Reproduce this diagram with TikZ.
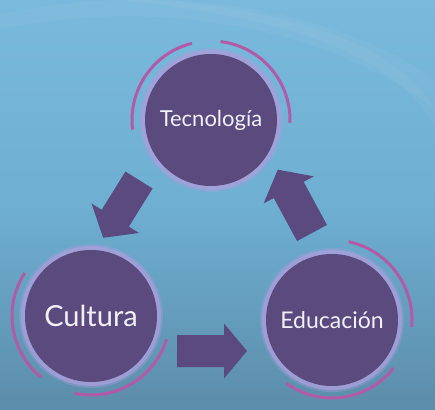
\documentclass[tikz,border=0pt]{standalone}
\usepackage{fontspec}
\setmainfont{Lato}
\usetikzlibrary{calc}
\definecolor{bgtop}{HTML}{7AB9DB}
\definecolor{bgmid}{HTML}{6EAFD2}
\definecolor{bgbot}{HTML}{5C8DAA}
\definecolor{ballfill}{HTML}{5A4A7E}
\definecolor{glow}{HTML}{A79FDA}
\definecolor{ringcol}{HTML}{B25AA8}
\definecolor{arrowcol}{HTML}{5B4A80}
\definecolor{txtcol}{HTML}{F2F0FA}
\tikzset{
  ball/.style={circle, fill=ballfill, minimum size=132pt, inner sep=0pt, text=txtcol},
  ring/.style={draw=ringcol, line width=3pt},
  blockarr/.style={fill=arrowcol},
}
\newcommand\myblockarrow[6]{% x y angle length shafthalf headhalf
  \fill[blockarr, shift={(#1,#2)}, rotate=#3]
    (0,-#5) -- ({#4-23},-#5) -- ({#4-23},-#6) -- (#4,0)
    -- ({#4-23},#6) -- ({#4-23},#5) -- (0,#5) -- cycle;}
\newcommand\myglow[1]{%
  \fill[glow, opacity=0.35] (#1) circle (72pt);
  \fill[glow, opacity=0.8] (#1) circle (70pt);}
\begin{document}
\begin{tikzpicture}[x=1pt,y=1pt]
\path[use as bounding box, top color=bgtop, bottom color=bgbot, middle color=bgmid]
  (0,0) rectangle (435,409);
% faint streaks
\fill[white, opacity=0.04] (0,395) .. controls (120,420) and (300,420) .. (435,330)
  -- (435,300) .. controls (300,400) and (120,405) .. (0,380) -- cycle;
\fill[white, opacity=0.04] (150,409) .. controls (300,400) and (400,360) .. (435,300)
  -- (435,280) .. controls (400,350) and (300,390) .. (120,409) -- cycle;
% coordinates
\coordinate (ct) at (211,289);
\coordinate (cc) at (91,93);
\coordinate (ce) at (332,89);
% glows
\myglow{ct}
\myglow{cc}
\myglow{ce}
% balls
\node[ball, font=\fontsize{22}{24}\selectfont] (tec) at (ct) {Tecnología};
\node[ball, font=\fontsize{29}{31}\selectfont] (cul) at (cc) {Cultura};
\node[ball, font=\fontsize{23}{25}\selectfont] (edu) at (ce) {Educación};
% rings
\draw[ring] ($(ct)+(104:79pt)$) arc[start angle=104, end angle=187, radius=79pt];
\draw[ring] ($(ct)+(-2:79pt)$) arc[start angle=-2, end angle=83, radius=79pt];
\draw[ring] ($(cc)+(147:79pt)$) arc[start angle=147, end angle=231, radius=79pt];
\draw[ring] ($(cc)+(258:79pt)$) arc[start angle=258, end angle=343, radius=79pt];
\draw[ring] ($(ce)+(-5:80pt)$) arc[start angle=-5, end angle=78, radius=80pt];
\draw[ring] ($(ce)+(234:78pt)$) arc[start angle=234, end angle=322, radius=78pt];
% block arrows
\myblockarrow{139}{229}{238.2}{68}{16}{28}
\myblockarrow{312}{176}{118.4}{72}{17}{28.5}
\myblockarrow{177}{58}{0}{70}{16}{27.5}
\end{tikzpicture}
\end{document}
